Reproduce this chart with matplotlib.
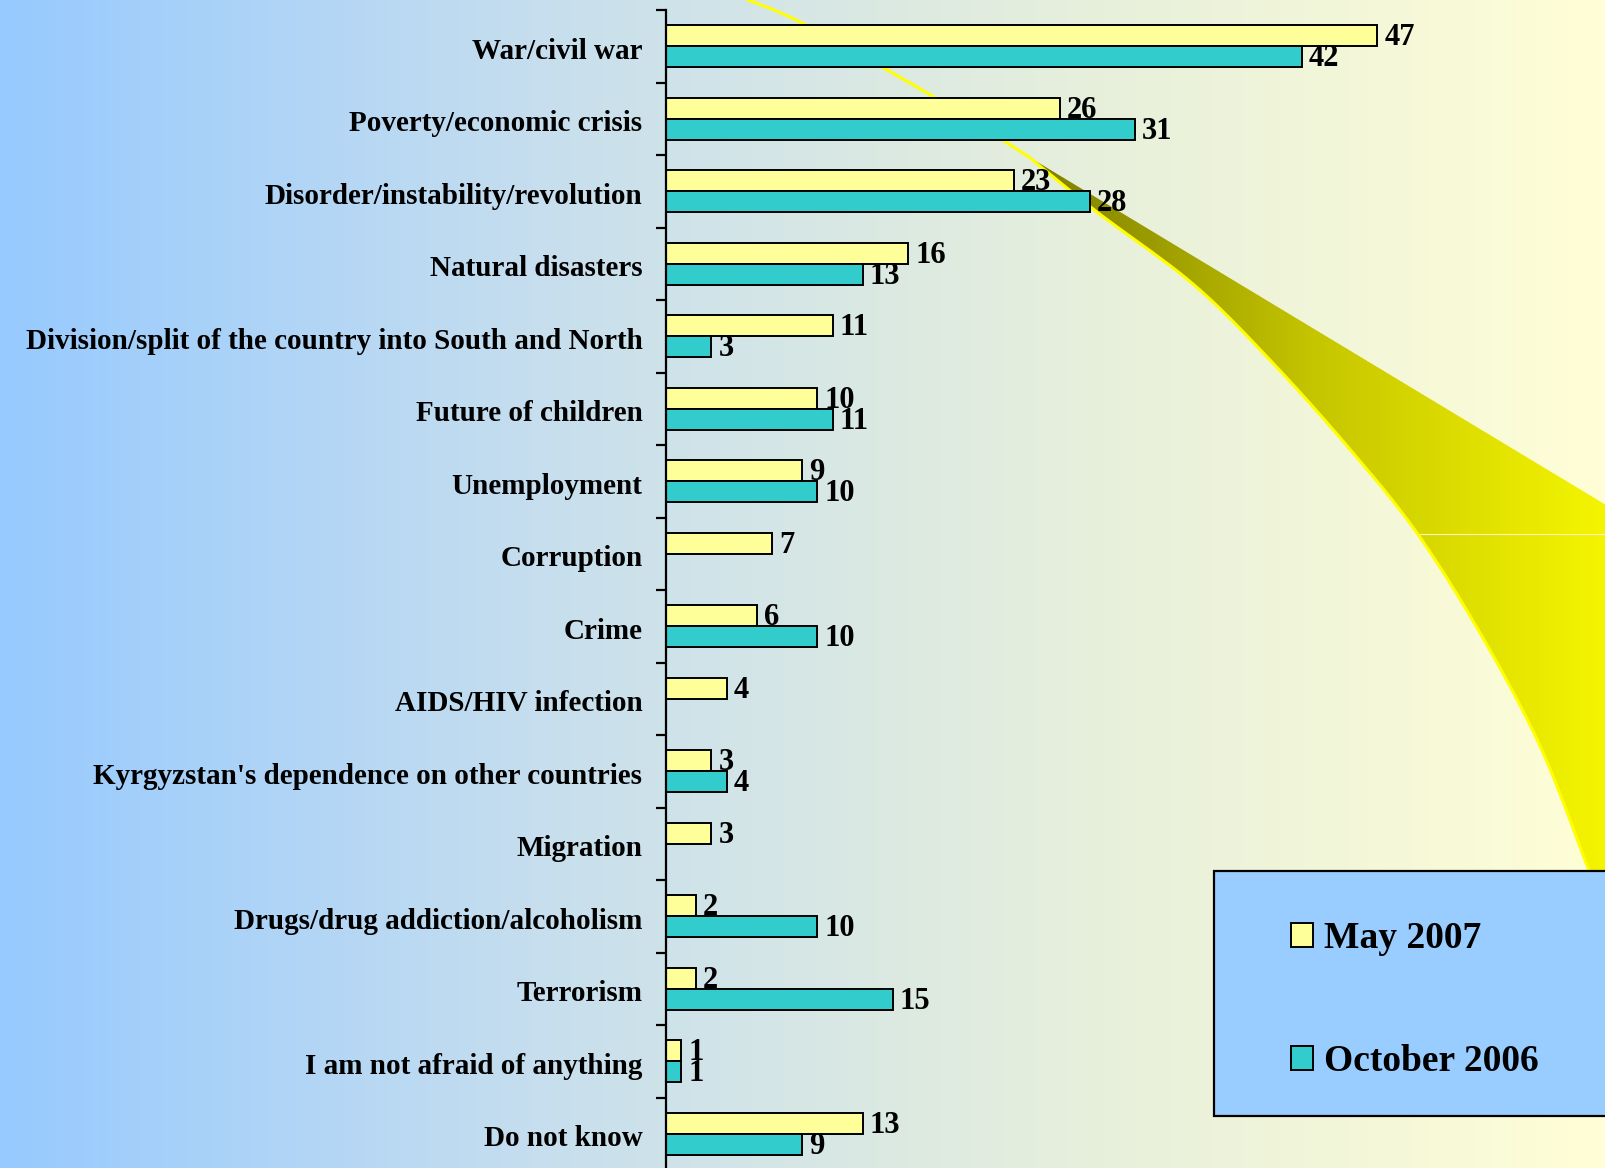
import numpy as np
import matplotlib
matplotlib.use("Agg")
import matplotlib.pyplot as plt
from matplotlib.patches import Polygon, Rectangle, Patch
from matplotlib.colors import LinearSegmentedColormap
from matplotlib.transforms import ScaledTranslation

categories = [
    "War/civil war",
    "Poverty/economic crisis",
    "Disorder/instability/revolution",
    "Natural disasters",
    "Division/split of the country into South and North",
    "Future of children",
    "Unemployment",
    "Corruption",
    "Crime",
    "AIDS/HIV infection",
    "Kyrgyzstan's dependence on other countries",
    "Migration",
    "Drugs/drug addiction/alcoholism",
    "Terrorism",
    "I am not afraid of anything",
    "Do not know",
]
may_2007 = [47, 26, 23, 16, 11, 10, 9, 7, 6, 4, 3, 3, 2, 2, 1, 13]
oct_2006 = [42, 31, 28, 13, 3, 11, 10, None, 10, None, 4, None, 10, 15, 1, 9]

W, H = 1606, 1168
fig = plt.figure(figsize=(W / 100, H / 100), dpi=100)
plt.rcParams["font.family"] = ["Liberation Serif", "DejaVu Serif"]


def smooth(pts, n=12):
    # catmull-rom through the traced points, only for the decorative swoosh
    p = np.array(pts, dtype=float)
    p = np.vstack([p[0], p, p[-1]])
    out = []
    for i in range(1, len(p) - 2):
        p0, p1, p2, p3 = p[i - 1], p[i], p[i + 1], p[i + 2]
        for t in np.linspace(0, 1, n, endpoint=False):
            out.append(0.5 * ((2 * p1) + (-p0 + p2) * t
                              + (2 * p0 - 5 * p1 + 4 * p2 - p3) * t ** 2
                              + (-p0 + 3 * p1 - 3 * p2 + p3) * t ** 3))
    out.append(p[-2])
    return np.array(out)


# background: horizontal gradient plus yellow swoosh
bg = fig.add_axes([0, 0, 1, 1], zorder=0)
bg.set_xlim(0, W)
bg.set_ylim(H, 0)
bg.axis("off")
grad = LinearSegmentedColormap.from_list("bg", ["#97caff", "#c6deee", "#e6efdc", "#fffed6"])
bg.imshow(np.linspace(0, 1, 256)[None, :], cmap=grad, aspect="auto",
          extent=(0, W, H, 0), zorder=0)

curve_top = [(748, 0), (804, 24), (934, 97), (1029, 157)]
curve_low = [(1029, 157), (1097, 212), (1193, 284), (1270, 360), (1348, 447),
             (1417, 533), (1483, 638), (1541, 748), (1588, 868), (1606, 915)]
low = smooth(curve_low)
wedge = Polygon(np.vstack([[(1029, 157), (1606, 505)], low[::-1]]), closed=True,
                facecolor="none", edgecolor="none")
bg.add_patch(wedge)
olive = LinearSegmentedColormap.from_list("ol", ["#7c7c00", "#c6c600", "#f5f500"])
im = bg.imshow(np.linspace(0, 1, 256)[None, :], cmap=olive, aspect="auto",
               extent=(1029, W, H, 0), zorder=1)
im.set_clip_path(wedge)
bg.plot([1417, W], [534, 534], color="#f8f8c0", lw=0.8, zorder=2)
line = np.vstack([smooth(curve_top), low[1:]])
bg.plot(line[:, 0], line[:, 1], color="#ffff00", lw=2.2, zorder=2)

# legend box
bg.add_patch(Rectangle((1214, 871), 400, 245, facecolor="#99ccff",
                       edgecolor="black", lw=1.6, zorder=3))

# main bars
ax = fig.add_axes([666 / W, -2 / H, 1 - 666 / W, 1160 / H], zorder=1)
ax.patch.set_alpha(0)
y = np.arange(len(categories))
h = 0.29
may_vals = np.array(may_2007, dtype=float)
oct_vals = np.array([np.nan if v is None else v for v in oct_2006], dtype=float)
b1 = ax.barh(y - h / 2, may_vals, height=h, color="#ffff99", edgecolor="black", lw=1.4)
b2 = ax.barh(y + h / 2, np.nan_to_num(oct_vals), height=h, color="#33cccc",
             edgecolor="black", lw=1.4)
for rect, v in zip(b2, oct_vals):
    if np.isnan(v):
        rect.set_visible(False)

lab_kw = dict(fontsize=22, fontweight="bold", va="center", ha="left",
              textcoords="offset points", xytext=(5, -1.5))
for yi, v in zip(y, may_vals):
    ax.annotate(f"{int(v)}", (v, yi - h / 2), **lab_kw)
for yi, v in zip(y, oct_vals):
    if not np.isnan(v):
        ax.annotate(f"{int(v)}", (v, yi + h / 2), **lab_kw)

ax.set_xlim(0, 62.1)
ax.set_ylim(len(categories) - 0.5, -0.5)
for s in ["top", "right", "bottom"]:
    ax.spines[s].set_visible(False)
ax.spines["left"].set_linewidth(1.6)
ax.set_xticks([])
ax.set_yticks(np.arange(-0.5, len(categories), 1))
ax.set_yticklabels([])
ax.set_yticks(y, minor=True)
ax.set_yticklabels(categories, minor=True, fontsize=21, fontweight="bold")
ax.tick_params(axis="y", which="major", length=7, width=1.6, direction="out")
ax.tick_params(axis="y", which="minor", length=0, pad=17)
shift = ScaledTranslation(0, -1.5 / 72, fig.dpi_scale_trans)
for lbl in ax.get_yticklabels(minor=True):
    lbl.set_transform(lbl.get_transform() + shift)

handles = [Patch(facecolor="#ffff99", edgecolor="black", lw=1.4),
           Patch(facecolor="#33cccc", edgecolor="black", lw=1.4)]
fig.legend(handles, ["May 2007", "October 2006"], loc="center left",
           bbox_to_anchor=(1257 / W, 1 - 1000 / H), frameon=False,
           prop=dict(size=27, weight="bold"), handlelength=0.6, handleheight=0.6,
           handletextpad=0.3, labelspacing=2.35)

fig.savefig("out.png", dpi=100)
